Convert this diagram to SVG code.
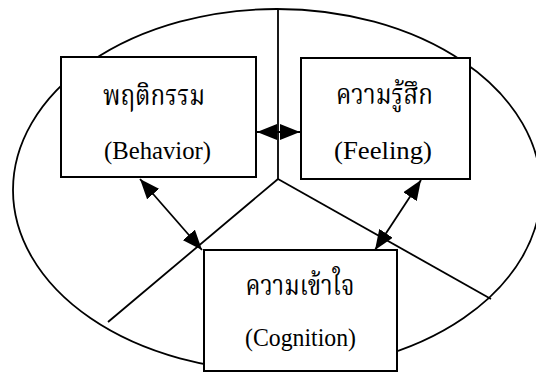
<svg xmlns="http://www.w3.org/2000/svg" width="536" height="374" viewBox="0 0 536 374">
<style>
.shape{fill:none;stroke:#000;stroke-width:1.8}
.box{fill:#fff;stroke:#000;stroke-width:2}
.conn{fill:none;stroke:#000;stroke-width:1.8}
.th{font-family:"Noto Serif Thai","Noto Sans Thai","Liberation Serif","DejaVu Sans",serif;font-size:28px;fill:#000;text-anchor:middle}
.en{font-family:"Liberation Serif","Times New Roman",serif;font-size:25px;fill:#000;text-anchor:middle}
</style>
<defs>
<marker id="ah" markerUnits="userSpaceOnUse" markerWidth="20" markerHeight="16" refX="20" refY="8" orient="auto-start-reverse">
<path d="M0,0 L20,8 L0,16 z" fill="#000"/>
</marker>
</defs>
<g id="background">
<ellipse class="shape" cx="277" cy="190" rx="264" ry="181"/>
<line class="shape" x1="278" y1="10" x2="278" y2="179"/>
<line class="shape" x1="278" y1="179" x2="108" y2="322"/>
<line class="shape" x1="278" y1="179" x2="491" y2="299"/>
</g>
<g id="behavior">
<rect class="box" x="61" y="57" width="195" height="120"/>
<text class="th" x="154" y="105" textLength="102" lengthAdjust="spacingAndGlyphs">พฤติกรรม</text>
<text class="en" x="157.5" y="159" textLength="107" lengthAdjust="spacingAndGlyphs">(Behavior)</text>
</g>
<g id="feeling">
<rect class="box" x="301" y="58" width="169" height="121"/>
<text class="th" x="384.5" y="104" textLength="97" lengthAdjust="spacingAndGlyphs">ความรู้สึก</text>
<text class="en" x="383" y="159" textLength="98" lengthAdjust="spacingAndGlyphs">(Feeling)</text>
</g>
<g id="cognition">
<rect class="box" x="204" y="250" width="193" height="121"/>
<text class="th" x="300" y="295" textLength="109" lengthAdjust="spacingAndGlyphs">ความเข้าใจ</text>
<text class="en" x="300.5" y="346" textLength="111" lengthAdjust="spacingAndGlyphs">(Cognition)</text>
</g>
<g id="connectors">
<line class="conn" x1="257" y1="132" x2="300" y2="132" marker-start="url(#ah)" marker-end="url(#ah)"/>
<line class="conn" x1="140" y1="179" x2="202" y2="250" marker-start="url(#ah)" marker-end="url(#ah)"/>
<line class="conn" x1="421" y1="180" x2="375" y2="250" marker-start="url(#ah)" marker-end="url(#ah)"/>
</g>
</svg>
